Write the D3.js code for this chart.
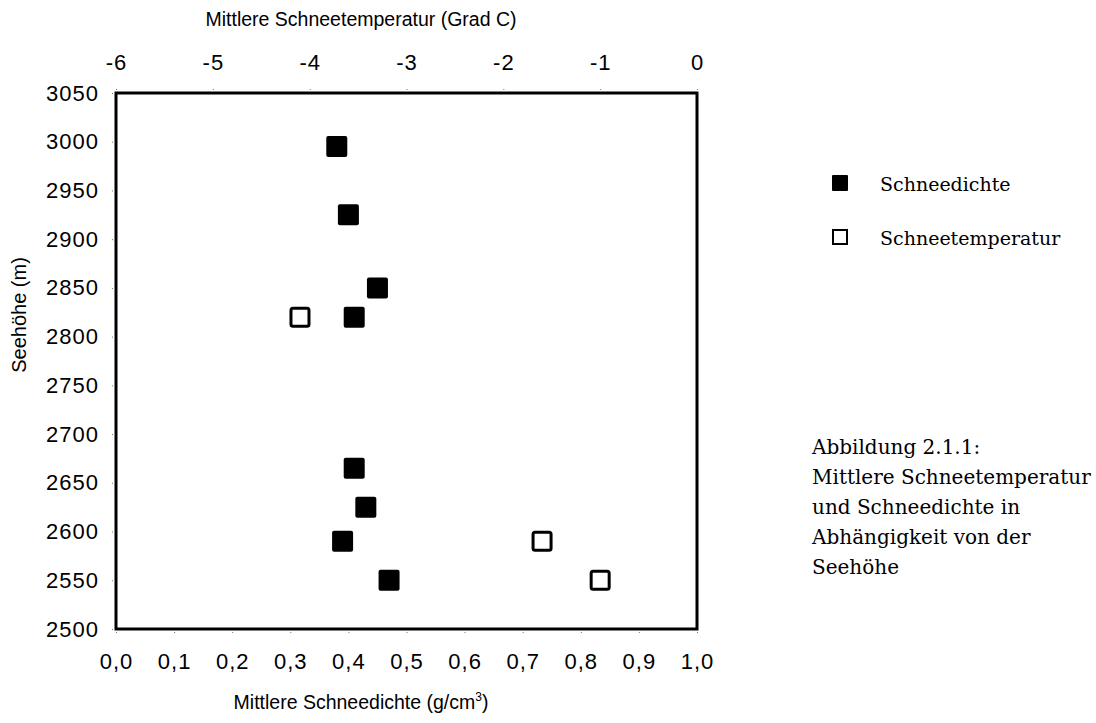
<!DOCTYPE html>
<html>
<head>
<meta charset="utf-8">
<style>
    body { margin: 0; background: #fff; }
    .axis text { font-family: "Liberation Sans", Arial, sans-serif; font-size: 22px; letter-spacing: 1px; fill: #000; }
    .axis line { stroke: #777; stroke-width: 1px; stroke-dasharray: 1,2; }
    .axis path { display: none; }
    .title { font-family: "Liberation Sans", Arial, sans-serif; font-size: 19.5px; fill: #000; }
    .serif { font-family: "DejaVu Serif", "Liberation Serif", serif; font-size: 19px; fill: #000; }
    .caption { font-size: 20px; }
</style>
</head>
<body>
<script src="https://d3js.org/d3.v7.min.js"></script>
<script>
    // data
    var densHeight = [2995, 2925, 2850, 2820, 2665, 2625, 2590, 2550];
    var densValue  = [0.38, 0.40, 0.45, 0.41, 0.41, 0.43, 0.39, 0.47];
    var tempHeight = [2820, 2590, 2550];
    var tempValue  = [-4.1, -1.6, -1.0];

    var heightTicks = [2500, 2550, 2600, 2650, 2700, 2750, 2800, 2850, 2900, 2950, 3000, 3050];
    var densTicks = [0, 0.1, 0.2, 0.3, 0.4, 0.5, 0.6, 0.7, 0.8, 0.9, 1.0];
    var tempTicks = [-6, -5, -4, -3, -2, -1, 0];
    var captionLines = ["Abbildung 2.1.1:", "Mittlere Schneetemperatur", "und Schneedichte in", "Abhängigkeit von der", "Seehöhe"];

    var margin = { top: 93, left: 116 },
        width = 581,
        height = 536;

    var svg = d3.select("body").append("svg")
        .attr("width", 1096)
        .attr("height", 723);

    var g = svg.append("g")
        .attr("transform", "translate(" + margin.left + "," + margin.top + ")");

    var xDens = d3.scaleLinear().domain([0, 1]).range([0, width]);
    var xTemp = d3.scaleLinear().domain([-6, 0]).range([0, width]);
    var y = d3.scaleLinear().domain([2500, 3050]).range([height, 0]);

    var fmtComma = function(d) { return d3.format(".1f")(d).replace(".", ","); };

    g.append("g")
        .attr("class", "axis")
        .attr("transform", "translate(0," + height + ")")
        .call(d3.axisBottom(xDens).tickValues(densTicks).tickSize(6).tickPadding(18).tickFormat(fmtComma));

    g.append("g")
        .attr("class", "axis")
        .call(d3.axisTop(xTemp).tickValues(tempTicks).tickSize(6).tickPadding(17).tickFormat(function(d) { return String(d); }));

    g.append("g")
        .attr("class", "axis")
        .call(d3.axisLeft(y).tickValues(heightTicks).tickSize(6).tickPadding(11).tickFormat(function(d) { return String(d); }));

    // frame
    g.append("rect")
        .attr("width", width)
        .attr("height", height)
        .attr("fill", "none")
        .attr("stroke", "#000")
        .attr("stroke-width", 3);

    // axis titles
    var titleX = 361;
    svg.append("text")
        .attr("class", "title")
        .attr("x", titleX)
        .attr("y", 26)
        .attr("text-anchor", "middle")
        .text("Mittlere Schneetemperatur (Grad C)");

    var bt = svg.append("text")
        .attr("class", "title")
        .attr("x", titleX)
        .attr("y", 709)
        .attr("text-anchor", "middle");
    bt.append("tspan").text("Mittlere Schneedichte (g/cm");
    bt.append("tspan").attr("dy", -8).style("font-size", "12px").text("3");
    bt.append("tspan").attr("dy", 8).text(")");

    svg.append("text")
        .attr("class", "title")
        .attr("transform", "translate(26,315) rotate(-90)")
        .attr("text-anchor", "middle")
        .style("font-size", "20px")
        .text("Seehöhe (m)");

    // density points (filled)
    var sz = 21;
    g.selectAll(".dens")
        .data(densValue)
        .enter().append("rect")
        .attr("class", "dens")
        .attr("x", function(d) { return xDens(d) - sz / 2; })
        .attr("y", function(d, i) { return y(densHeight[i]) - sz / 2; })
        .attr("width", sz)
        .attr("height", sz)
        .attr("rx", 2)
        .attr("fill", "#000");

    // temperature points (open)
    g.selectAll(".temp")
        .data(tempValue)
        .enter().append("rect")
        .attr("class", "temp")
        .attr("x", function(d) { return xTemp(d) - (sz - 3) / 2; })
        .attr("y", function(d, i) { return y(tempHeight[i]) - (sz - 3) / 2; })
        .attr("width", sz - 3)
        .attr("height", sz - 3)
        .attr("rx", 2)
        .attr("fill", "#fff")
        .attr("stroke", "#000")
        .attr("stroke-width", 3);

    // legend
    var legend = svg.append("g").attr("transform", "translate(832,175)");
    legend.append("rect").attr("x", 0).attr("y", 0).attr("width", 16).attr("height", 16).attr("rx", 1).attr("fill", "#000");
    legend.append("text").attr("class", "serif").attr("x", 48).attr("y", 16).text("Schneedichte");
    legend.append("rect").attr("x", 1).attr("y", 55).attr("width", 14).attr("height", 14).attr("fill", "#fff").attr("stroke", "#000").attr("stroke-width", 2);
    legend.append("text").attr("class", "serif").attr("x", 48).attr("y", 70).text("Schneetemperatur");

    // caption
    svg.append("g").selectAll("text")
        .data(captionLines)
        .enter().append("text")
        .attr("class", "serif caption")
        .attr("x", 812)
        .attr("y", function(d, i) { return 454 + i * 30; })
        .text(function(d) { return d; });
</script>
</body>
</html>
